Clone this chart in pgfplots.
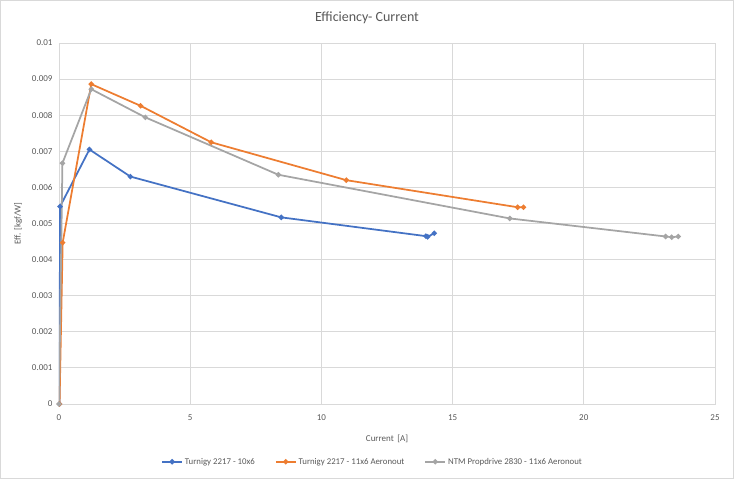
\documentclass[border=0pt]{standalone}
\usepackage{pgfplots}
\pgfplotsset{compat=1.18}
\usepackage{fontspec}
\setmainfont{Carlito}
\definecolor{txt}{RGB}{89,89,89}
\definecolor{gridc}{RGB}{217,217,217}
\definecolor{sblue}{RGB}{68,114,196}
\definecolor{sorange}{RGB}{237,125,49}
\definecolor{sgray}{RGB}{165,165,165}
\begin{document}
\begin{tikzpicture}
\path[use as bounding box] (0pt,0pt) rectangle (734pt,479pt);
\draw[gridc, line width=1pt] (0.5pt,0.5pt) rectangle (733.5pt,478.5pt);
\node[txt, font=\fontsize{14}{16}\selectfont] at (367pt,461pt) {Efficiency- Current};
\begin{axis}[
  at={(59pt,75pt)}, anchor=south west,
  width=656pt, height=361pt, scale only axis,
  xmin=0, xmax=25, ymin=0, ymax=0.01,
  xtick={0,5,10,15,20,25},
  ytick={0,0.001,0.002,0.003,0.004,0.005,0.006,0.007,0.008,0.009,0.01},
  yticklabels={0,0.001,0.002,0.003,0.004,0.005,0.006,0.007,0.008,0.009,0.01},
  xticklabels={0,5,10,15,20,25},
  scaled y ticks=false,
  grid=major,
  major grid style={draw=gridc, line width=0.9pt},
  axis line style={draw=gridc, line width=0.9pt},
  tick style={draw=none},
  tick label style={font=\fontsize{9}{10}\selectfont, text=txt},
  xticklabel style={yshift=-7pt},
  yticklabel style={xshift=-3pt},
  xlabel={Current\, [A]},
  ylabel={Eff. [kgf/W]},
  label style={font=\fontsize{9}{10}\selectfont, text=txt},
  xlabel style={yshift=-8pt},
  ylabel style={yshift=3pt},
  legend columns=3,
  legend style={at={(0.478,-0.16)}, anchor=center, draw=none, fill=none,
    font=\fontsize{8.8}{10}\selectfont, text=txt,
    /tikz/every even column/.append style={column sep=18pt},
    /tikz/every odd column/.append style={column sep=0pt}},
  legend cell align=left,
  legend image code/.code={
    \draw[mark repeat=2,mark phase=2,#1] plot coordinates {(0pt,0pt) (10pt,0pt) (20pt,0pt)};},
  every axis plot/.append style={line width=1.75pt, mark=*, mark size=1.7pt},
]
\addplot[sblue, mark options={fill=sblue, draw=sblue}] coordinates {
  (0.02,0) (0.04,0.00547) (1.16,0.00705) (2.72,0.00630) (8.47,0.00517) (13.98,0.00465) (14.05,0.00463) (14.30,0.00473)
};
\addlegendentry{Turnigy 2217 - 10x6}
\addplot[sorange, mark options={fill=sorange, draw=sorange}] coordinates {
  (0.02,0) (0.14,0.00447) (1.23,0.00886) (3.11,0.00826) (5.80,0.00725) (10.95,0.00620) (17.48,0.00545) (17.70,0.00545)
};
\addlegendentry{Turnigy 2217 - 11x6 Aeronout}
\addplot[sgray, mark options={fill=sgray, draw=sgray}] coordinates {
  (0,0) (0.13,0.00667) (1.23,0.00872) (3.29,0.00794) (8.36,0.00635) (17.18,0.00514) (23.12,0.00464) (23.35,0.00462) (23.60,0.00464)
};
\addlegendentry{NTM Propdrive 2830 - 11x6 Aeronout}
\end{axis}
\end{tikzpicture}
\end{document}
